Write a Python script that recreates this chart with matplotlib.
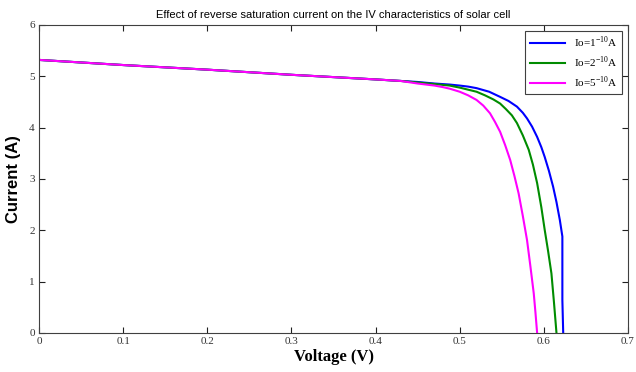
import matplotlib
matplotlib.use("Agg")
import matplotlib.pyplot as plt

# Voltage (V) / current (A)
v_common = [0.0, 0.1, 0.2, 0.3, 0.4, 0.43]
i_common = [5.32, 5.22, 5.13, 5.03, 4.94, 4.91]

v_io1 = [0.45, 0.47, 0.488, 0.50, 0.51, 0.52, 0.535, 0.548, 0.558, 0.568, 0.575, 0.58,
         0.586, 0.592, 0.597, 0.601, 0.606, 0.611, 0.615, 0.619, 0.622, 0.622, 0.623]
i_io1 = [4.89, 4.86, 4.84, 4.82, 4.80, 4.77, 4.70, 4.60, 4.52, 4.41, 4.29, 4.18,
         4.02, 3.82, 3.62, 3.43, 3.16, 2.85, 2.55, 2.20, 1.88, 0.64, 0.0]

v_io2 = [0.45, 0.47, 0.488, 0.50, 0.51, 0.52, 0.53, 0.54, 0.548, 0.555, 0.562, 0.568,
         0.575, 0.582, 0.587, 0.592, 0.597, 0.601, 0.605, 0.609, 0.612, 0.615]
i_io2 = [4.88, 4.85, 4.82, 4.78, 4.74, 4.70, 4.63, 4.55, 4.47, 4.36, 4.24, 4.09,
         3.85, 3.57, 3.28, 2.92, 2.45, 2.01, 1.60, 1.16, 0.60, 0.0]

v_io5 = [0.45, 0.46, 0.47, 0.48, 0.488, 0.50, 0.51, 0.52, 0.528, 0.536, 0.542, 0.548,
         0.554, 0.56, 0.565, 0.57, 0.575, 0.58, 0.584, 0.588, 0.590, 0.592]
i_io5 = [4.86, 4.84, 4.82, 4.79, 4.76, 4.70, 4.63, 4.54, 4.43, 4.28, 4.11, 3.92,
         3.66, 3.37, 3.06, 2.72, 2.28, 1.81, 1.30, 0.77, 0.40, 0.0]

labels = ["Io=1$^{-10}$A", "Io=2$^{-10}$A", "Io=5$^{-10}$A"]
colors = ["#0000ff", "#008c00", "#ff00ff"]

plt.rcParams['mathtext.fontset'] = 'custom'
plt.rcParams['mathtext.rm'] = 'Liberation Serif'

fig = plt.figure(figsize=(6.36, 3.72), dpi=100)
ax = fig.add_axes([39 / 636, 1 - 333 / 372, 589 / 636, 308 / 372])

series = [(v_io1, i_io1), (v_io2, i_io2), (v_io5, i_io5)]
for (v, i), lab, col in zip(series, labels, colors):
    ax.plot(v_common + v, i_common + i, color=col, linewidth=1.5, label=lab)

ax.set_xlim(0, 0.7)
ax.set_ylim(0, 6)
ax.set_xticks([0, 0.1, 0.2, 0.3, 0.4, 0.5, 0.6, 0.7])
ax.set_xticklabels(["0", "0.1", "0.2", "0.3", "0.4", "0.5", "0.6", "0.7"])
ax.set_yticks([0, 1, 2, 3, 4, 5, 6])

edge = "#404040"
for s in ax.spines.values():
    s.set_color(edge)
    s.set_linewidth(0.8)
ax.tick_params(direction='in', top=True, right=True, length=4, width=0.8,
               color="#202020", labelcolor="#333333", labelsize=8, pad=3)
for t in ax.get_xticklabels() + ax.get_yticklabels():
    t.set_fontfamily('Liberation Serif')

ax.set_title("Effect of reverse saturation current on the IV characteristics of solar cell",
             fontsize=8, family='Liberation Sans', pad=5)
ax.set_xlabel("Voltage (V)", fontsize=12, fontweight='bold', family='Liberation Serif', labelpad=2)
ax.set_ylabel("Current (A)", fontsize=12, fontweight='bold', family='Liberation Sans', labelpad=6)

leg = ax.legend(loc='upper right', prop={'family': 'Liberation Serif', 'size': 8},
                fancybox=False, framealpha=1, edgecolor=edge, handlelength=3.2,
                borderaxespad=0.5, labelspacing=0.4)
leg.get_frame().set_linewidth(0.8)

fig.savefig("out.png", dpi=100, facecolor="white")
plt.close(fig)
